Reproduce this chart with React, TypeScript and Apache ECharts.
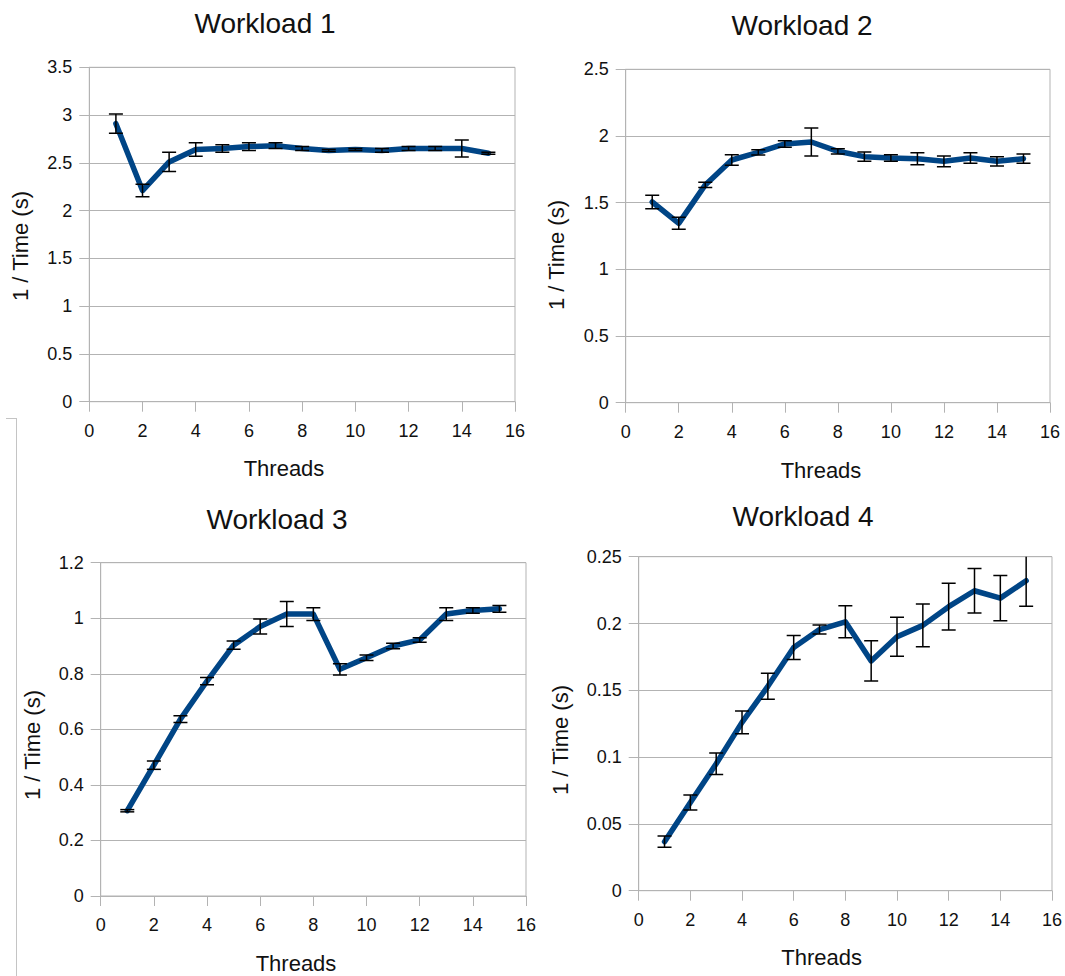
import React, { useEffect, useRef } from "react";
import * as echarts from "echarts";

const threads = [1, 2, 3, 4, 5, 6, 7, 8, 9, 10, 11, 12, 13, 14, 15];
const xTicks = { min: 0, max: 16, interval: 2 };

const titles = ["Workload 1", "Workload 2", "Workload 3", "Workload 4"];
const xName = "Threads";
const yName = "1 / Time (s)";

const w1Mean = [2.91, 2.21, 2.51, 2.64, 2.65, 2.67, 2.68, 2.65, 2.63, 2.64, 2.63, 2.65, 2.65, 2.65, 2.6];
const w1Err = [0.1, 0.065, 0.1, 0.07, 0.04, 0.04, 0.03, 0.02, 0.01, 0.01, 0.02, 0.02, 0.02, 0.09, 0.01];
const w2Mean = [1.505, 1.345, 1.633, 1.82, 1.877, 1.94, 1.955, 1.885, 1.845, 1.835, 1.83, 1.81, 1.835, 1.81, 1.83];
const w2Err = [0.05, 0.045, 0.02, 0.04, 0.02, 0.025, 0.105, 0.02, 0.035, 0.025, 0.045, 0.04, 0.04, 0.035, 0.035];
const w3Mean = [0.307, 0.471, 0.637, 0.774, 0.903, 0.97, 1.015, 1.015, 0.816, 0.858, 0.9, 0.922, 1.015, 1.028, 1.034];
const w3Err = [0.004, 0.015, 0.012, 0.013, 0.015, 0.027, 0.045, 0.023, 0.02, 0.01, 0.01, 0.008, 0.023, 0.01, 0.012];
const w4Mean = [0.0367, 0.066, 0.095, 0.126, 0.153, 0.182, 0.1955, 0.2013, 0.172, 0.19, 0.1986, 0.2126, 0.2245, 0.219, 0.232];
const w4Err = [0.0042, 0.0056, 0.008, 0.0085, 0.0097, 0.009, 0.0034, 0.012, 0.015, 0.0146, 0.016, 0.0175, 0.0167, 0.017, 0.019];

const yMax = [3.5, 2.5, 1.2, 0.25];
const yInterval = [0.5, 0.5, 0.2, 0.05];

const means = [w1Mean, w2Mean, w3Mean, w4Mean];
const errs = [w1Err, w2Err, w3Err, w4Err];

// layout (pixels)
const panels = [
  { left: 89.3, top: 67.3, width: 425.7, height: 334.4, title: [265, 23], xn: [284, 468], yn: [20, 246] },
  { left: 625.7, top: 69.3, width: 424.3, height: 333.4, title: [802, 25], xn: [821, 470], yn: [556.7, 255] },
  { left: 100.7, top: 562.7, width: 425.3, height: 333.3, title: [277, 519], xn: [296, 963], yn: [32, 745] },
  { left: 638.7, top: 556.7, width: 414, height: 334, title: [803, 516], xn: [821.7, 957.7], yn: [560, 740] },
];

const FONT = "'Liberation Sans', Arial, sans-serif";
const GRID = "#b3b3b3";
const LINE = "#004586";

export default function App() {
  const ref = useRef<HTMLDivElement>(null);
  useEffect(() => {
    if (!ref.current) return;
    const chart = echarts.init(ref.current, null, { renderer: "svg" });

    const grids = panels.map((p) => ({
      left: p.left,
      top: p.top,
      width: p.width,
      height: p.height,
      show: true,
      borderColor: GRID,
      borderWidth: 1,
      backgroundColor: "transparent",
    }));

    const xAxes = panels.map((_, i) => ({
      type: "value",
      gridIndex: i,
      min: xTicks.min,
      max: xTicks.max,
      interval: xTicks.interval,
      axisLine: { show: true, lineStyle: { color: GRID, width: 1 } },
      axisTick: { show: true, length: 10, lineStyle: { color: GRID } },
      splitLine: { show: false },
      axisLabel: { color: "#111", fontSize: 18, fontFamily: FONT, margin: 20 },
    }));

    const yAxes = panels.map((_, i) => ({
      type: "value",
      gridIndex: i,
      min: 0,
      max: yMax[i],
      interval: yInterval[i],
      axisLine: { show: true, lineStyle: { color: GRID, width: 1 } },
      axisTick: { show: true, length: 10, lineStyle: { color: GRID } },
      splitLine: { show: true, lineStyle: { color: GRID, width: 1 } },
      axisLabel: { color: "#111", fontSize: 18, fontFamily: FONT, margin: 17 },
    }));

    const series: any[] = [];
    panels.forEach((_, i) => {
      series.push({
        type: "line",
        xAxisIndex: i,
        yAxisIndex: i,
        data: threads.map((t, k) => [t, means[i][k]]),
        showSymbol: false,
        symbol: "none",
        lineStyle: { color: LINE, width: 5.5, join: "round", cap: "round" },
        z: 2,
      });
      series.push({
        type: "custom",
        xAxisIndex: i,
        yAxisIndex: i,
        clip: true,
        z: 3,
        data: threads.map((t, k) => [t, means[i][k], errs[i][k]]),
        renderItem: (params: any, api: any) => {
          const x = api.value(0);
          const y = api.value(1);
          const e = api.value(2);
          const hi = api.coord([x, y + e]);
          const lo = api.coord([x, y - e]);
          const hw = 7;
          const style = { stroke: "#000", lineWidth: 1.5 };
          return {
            type: "group",
            children: [
              { type: "line", shape: { x1: hi[0], y1: hi[1], x2: lo[0], y2: lo[1] }, style },
              { type: "line", shape: { x1: hi[0] - hw, y1: hi[1], x2: hi[0] + hw, y2: hi[1] }, style },
              { type: "line", shape: { x1: lo[0] - hw, y1: lo[1], x2: lo[0] + hw, y2: lo[1] }, style },
            ],
          };
        },
      });
    });

    const graphics: any[] = [];
    panels.forEach((p, i) => {
      graphics.push({
        type: "text",
        x: p.title[0],
        y: p.title[1],
        style: { text: titles[i], font: `28px ${FONT}`, fill: "#111", textAlign: "center", textVerticalAlign: "middle" },
      });
      graphics.push({
        type: "text",
        x: p.xn[0],
        y: p.xn[1],
        style: { text: xName, font: `22px ${FONT}`, fill: "#111", textAlign: "center", textVerticalAlign: "middle" },
      });
      graphics.push({
        type: "text",
        x: p.yn[0],
        y: p.yn[1],
        rotation: Math.PI / 2,
        style: { text: yName, font: `22px ${FONT}`, fill: "#111", textAlign: "center", textVerticalAlign: "middle" },
      });
    });
    // stitched-screenshot border remnants
    graphics.push({ type: "line", shape: { x1: 16.5, y1: 418, x2: 16.5, y2: 976 }, style: { stroke: "#c4c4c4", lineWidth: 1 } });
    graphics.push({ type: "line", shape: { x1: 6, y1: 418.5, x2: 16.5, y2: 418.5 }, style: { stroke: "#c4c4c4", lineWidth: 1 } });

    chart.setOption({
      animation: false,
      backgroundColor: "#fff",
      grid: grids,
      xAxis: xAxes,
      yAxis: yAxes,
      series,
      graphic: graphics,
    });
    return () => chart.dispose();
  }, []);
  return (
    <div
      ref={ref}
      style={{ position: "fixed", left: 0, top: 0, width: 1065, height: 976, background: "#fff" }}
    />
  );
}
